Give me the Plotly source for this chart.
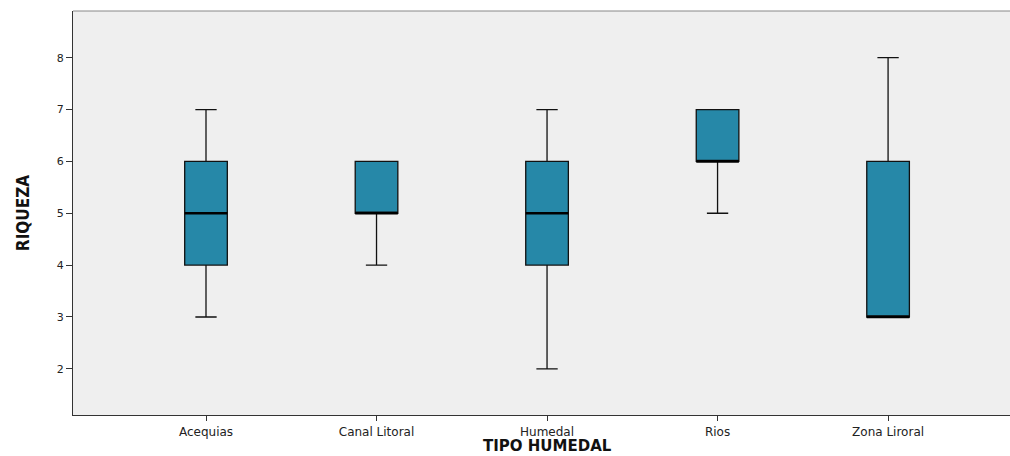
import plotly.graph_objects as go

categories = ["Acequias", "Canal Litoral", "Humedal", "Rios", "Zona Liroral"]
q1 = [4, 5, 4, 6, 3]
median = [5, 5, 5, 6, 3]
q3 = [6, 6, 6, 7, 6]
lower_whisker = [3, 4, 2, 5, 3]
upper_whisker = [7, 6, 7, 7, 8]
y_ticks = [2, 3, 4, 5, 6, 7, 8]

positions = list(range(len(categories)))
box_w = 0.25
fill = "#2688a8"

fig = go.Figure()
fig.add_trace(go.Box(
    x=positions, q1=q1, median=median, q3=q3,
    lowerfence=lower_whisker, upperfence=upper_whisker,
    width=box_w, whiskerwidth=0.5,
    fillcolor=fill, line=dict(color="#111111", width=1.3),
    boxpoints=False, showlegend=False, hoverinfo="skip",
))

mx, my = [], []
for p, m in zip(positions, median):
    mx += [p - box_w / 2, p + box_w / 2, None]
    my += [m, m, None]
fig.add_trace(go.Scatter(x=mx, y=my, mode="lines",
                         line=dict(color="#000000", width=2.6),
                         showlegend=False, hoverinfo="skip"))

# top frame line (plot area runs off the right edge)
fig.add_shape(type="line", xref="paper", yref="paper", x0=0, x1=1.01, y0=1, y1=1,
              line=dict(color="#888888", width=1), layer="above")

# x-axis title placed as annotation to sit below tick labels
fig.add_annotation(text="<b>TIPO HUMEDAL</b>", xref="x", yref="paper", x=2, y=-0.077,
                   yanchor="middle", xanchor="center", showarrow=False, borderpad=0,
                   font=dict(size=15, color="#111111", family="DejaVu Sans, Liberation Sans, sans-serif"))

fig.update_layout(
    width=1010, height=456,
    margin=dict(l=73, r=0, t=11, b=41),
    paper_bgcolor="white", plot_bgcolor="#efefef",
    font=dict(family="DejaVu Sans, Liberation Sans, sans-serif", color="#333333"),
    xaxis=dict(
        range=[-0.78, 4.715], tickmode="array", tickvals=positions, ticktext=categories,
        showgrid=False, zeroline=False, showline=True, linecolor="#333333", linewidth=1.2,
        ticks="outside", ticklen=5, tickcolor="#333333", tickfont=dict(size=12, color="#222222"),
    ),
    yaxis=dict(
        range=[1.11, 8.9], tickmode="array", tickvals=y_ticks,
        showgrid=False, zeroline=False, showline=True, linecolor="#333333", linewidth=1.2,
        ticks="outside", ticklen=6, tickcolor="#333333", tickfont=dict(size=11, color="#222222"),
        title=dict(text="<b>RIQUEZA</b>", font=dict(size=17, color="#111111",
                   family="DejaVu Sans Condensed, Liberation Sans Narrow, Liberation Sans, sans-serif"), standoff=22),
    ),
)

fig.write_html("out.html", config={"displayModeBar": False},
               post_script="document.body.style.margin='0';document.body.style.overflow='hidden';")
